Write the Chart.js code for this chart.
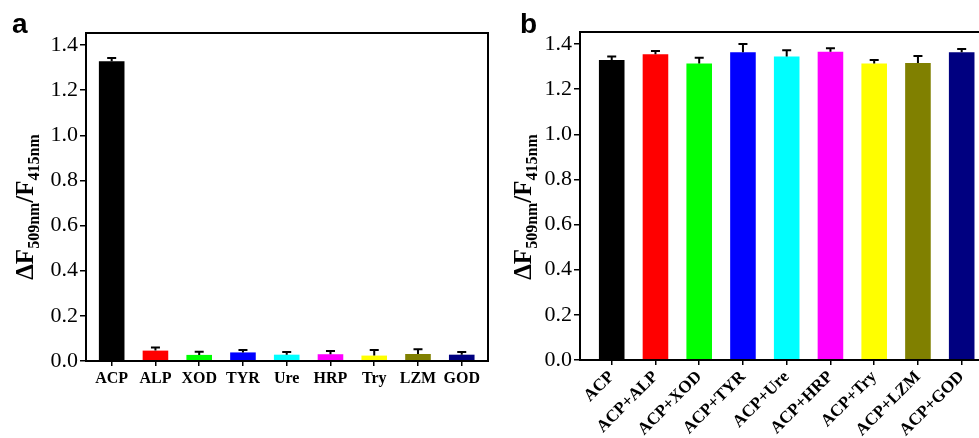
<!DOCTYPE html>
<html>
<head>
<meta charset="utf-8">
<script src="https://cdn.jsdelivr.net/npm/chart.js@4/dist/chart.umd.min.js"></script>
<style>
  html, body { margin: 0; padding: 0; background: #fff; overflow: hidden; }
  body { width: 979px; height: 438px; position: relative; }
  canvas { position: absolute; top: 0; }
</style>
</head>
<body>
<canvas id="panelA" width="490" height="438" style="left:0"></canvas>
<canvas id="panelB" width="495" height="438" style="left:490px"></canvas>
<script>
// Enzyme selectivity: ratiometric fluorescence response
const enzymesA = ['ACP', 'ALP', 'XOD', 'TYR', 'Ure', 'HRP', 'Try', 'LZM', 'GOD'];
const responseA = [1.328, 0.046, 0.027, 0.038, 0.028, 0.030, 0.024, 0.031, 0.028];
const errorA = [0.014, 0.014, 0.014, 0.011, 0.012, 0.014, 0.025, 0.021, 0.012];

const enzymesB = ['ACP', 'ACP+ALP', 'ACP+XOD', 'ACP+TYR', 'ACP+Ure', 'ACP+HRP', 'ACP+Try', 'ACP+LZM', 'ACP+GOD'];
const responseB = [1.329, 1.354, 1.314, 1.363, 1.345, 1.366, 1.314, 1.316, 1.363];
const errorB = [0.015, 0.015, 0.025, 0.037, 0.027, 0.015, 0.015, 0.031, 0.015];

const yTicks = [0, 0.2, 0.4, 0.6, 0.8, 1.0, 1.2, 1.4];

const barColors = ['#000000', '#ff0000', '#00ff00', '#0000ff', '#00ffff', '#ff00ff', '#ffff00', '#808000', '#000080'];

const SERIF = "'Liberation Serif', 'Times New Roman', serif";

// Upper error bars drawn on top of each bar
const errorBarPlugin = {
  id: 'errorBars',
  afterDatasetsDraw(chart, args, opts) {
    const ctx = chart.ctx;
    const xs = chart.scales.x, ys = chart.scales.y;
    const vals = opts.values, errs = opts.errors;
    ctx.save();
    ctx.strokeStyle = '#000';
    ctx.lineWidth = 2;
    vals.forEach((v, i) => {
      const x = xs.getPixelForValue(i);
      const y0 = ys.getPixelForValue(v);
      const y1 = ys.getPixelForValue(v + errs[i]);
      ctx.beginPath();
      ctx.moveTo(x, y0);
      ctx.lineTo(x, y1);
      ctx.moveTo(x - 4.5, y1);
      ctx.lineTo(x + 4.5, y1);
      ctx.stroke();
    });
    ctx.restore();
  }
};

// Closed frame, axis title with subscripts and panel letter
const decorPlugin = {
  id: 'decor',
  afterDraw(chart, args, opts) {
    const ctx = chart.ctx;
    const a = chart.chartArea;
    ctx.save();
    ctx.strokeStyle = '#000';
    ctx.lineWidth = 2;
    ctx.strokeRect(a.left, a.top, a.right - a.left, a.bottom - a.top);

    // panel letter
    ctx.fillStyle = '#000';
    ctx.font = "bold 28px 'Liberation Sans', Arial, sans-serif";
    ctx.textBaseline = 'alphabetic';
    ctx.textAlign = 'left';
    ctx.fillText(opts.letter, opts.letterX, 33);

    // y axis title: ΔF509nm/F415nm
    const parts = [
      { t: '\u0394F', size: 25, dy: 0 },
      { t: '509nm', size: 16, dy: 6 },
      { t: '/F', size: 25, dy: 0 },
      { t: '415nm', size: 16, dy: 6 }
    ];
    let total = 0;
    parts.forEach(p => {
      ctx.font = 'bold ' + p.size + 'px ' + SERIF;
      p.w = ctx.measureText(p.t).width;
      total += p.w;
    });
    ctx.translate(opts.titleX, opts.titleY);
    ctx.rotate(-Math.PI / 2);
    let x = -total / 2;
    parts.forEach(p => {
      ctx.font = 'bold ' + p.size + 'px ' + SERIF;
      ctx.fillText(p.t, x, 8 + p.dy);
      x += p.w;
    });
    ctx.restore();
  }
};

function makePanel(id, labels, values, errors, cfg) {
  return new Chart(document.getElementById(id), {
    type: 'bar',
    data: {
      datasets: [{
        data: values.map((v, i) => ({ x: i, y: v })),
        backgroundColor: barColors,
        borderWidth: 0,
        categoryPercentage: 1,
        barPercentage: 0.585
      }]
    },
    options: {
      responsive: false,
      animation: false,
      events: [],
      layout: { padding: { left: 0, top: cfg.top, right: cfg.right, bottom: 0 } },
      plugins: {
        legend: { display: false },
        tooltip: { enabled: false },
        errorBars: { values: values, errors: errors },
        decor: { letter: cfg.letter, letterX: cfg.letterX, titleX: cfg.titleX, titleY: cfg.titleY }
      },
      scales: {
        x: {
          type: 'linear',
          min: cfg.xmin,
          max: cfg.xmax,
          offset: false,
          afterBuildTicks: s => { s.ticks = labels.map((_, i) => ({ value: i })); },
          afterFit: s => { s.height = cfg.xHeight; },
          grid: { display: true, drawOnChartArea: false, drawTicks: true, tickLength: 5, color: '#000', lineWidth: 1.5, offset: false },
          border: { display: true, color: '#000', width: 2 },
          ticks: {
            autoSkip: false,
            includeBounds: false,
            maxRotation: cfg.rot,
            minRotation: cfg.rot,
            padding: cfg.rot ? 2 : 3,
            color: '#000',
            font: { family: SERIF, size: cfg.xFont, weight: 'bold' },
            callback: v => labels[v]
          }
        },
        y: {
          min: 0,
          max: 1.453,
          afterBuildTicks: s => { s.ticks = yTicks.map(v => ({ value: v })); },
          afterFit: s => { s.width = cfg.yWidth; },
          grid: { display: true, drawOnChartArea: false, drawTicks: true, tickLength: 6, color: '#000', lineWidth: 1.5 },
          border: { display: true, color: '#000', width: 2 },
          ticks: {
            includeBounds: false,
            padding: 2,
            color: '#000',
            font: { family: SERIF, size: 22 },
            callback: v => v.toFixed(1)
          }
        }
      }
    },
    plugins: [errorBarPlugin, decorPlugin]
  });
}

makePanel('panelA', enzymesA, responseA, errorA, {
  top: 33, right: 2, yWidth: 86, xHeight: 77,
  xmin: -0.587, xmax: 8.6, rot: 0, xFont: 16,
  letter: 'a', letterX: 12, titleX: 25, titleY: 207
});

makePanel('panelB', enzymesB, responseB, errorB, {
  top: 32, right: 1, yWidth: 90, xHeight: 78,
  xmin: -0.725, xmax: 8.51, rot: 45, xFont: 17,
  letter: 'b', letterX: 30, titleX: 33, titleY: 207
});
</script>
</body>
</html>
